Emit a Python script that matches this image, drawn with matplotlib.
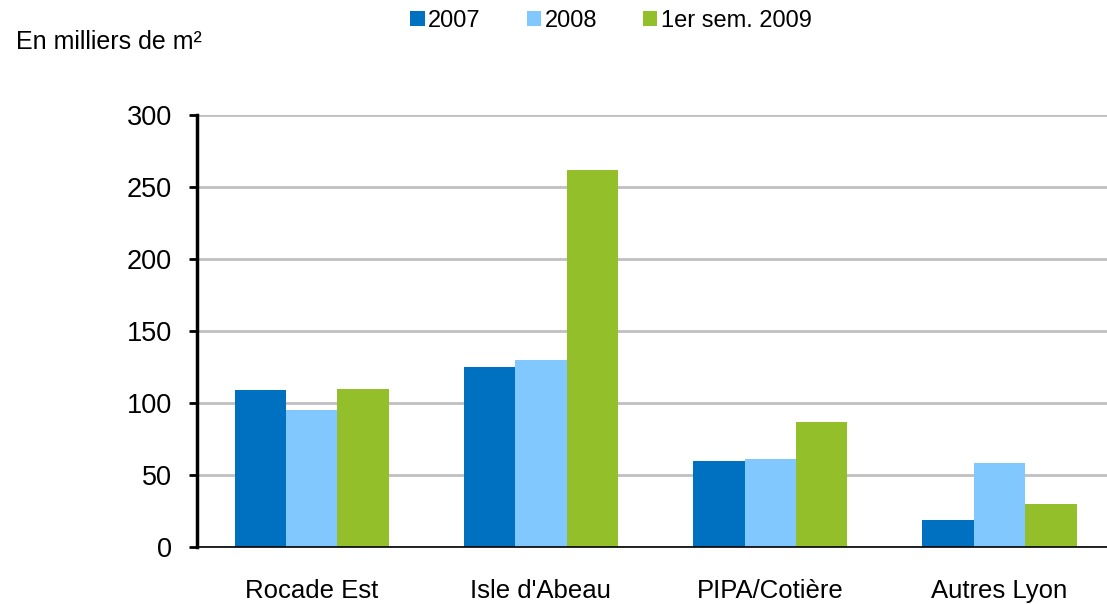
import matplotlib.pyplot as plt
import numpy as np

plt.rcParams['font.family'] = ['Liberation Sans', 'DejaVu Sans']

categories = ['Rocade Est', "Isle d'Abeau", 'PIPA/Cotière', 'Autres Lyon']
series = ['2007', '2008', '1er sem. 2009']
v2007 = [109, 125, 60, 19]
v2008 = [95, 130, 61, 58]
v2009 = [110, 262, 87, 30]
colors = ['#0070C0', '#80C8FF', '#93C02A']

fig = plt.figure(figsize=(11.07, 6.04), dpi=100)
ax = fig.add_axes([197 / 1107, 57 / 604, 1 - 197 / 1107 + 0.005, 432 / 604])

x = np.arange(len(categories))
w = 0.224
handles = []
for i, (vals, c) in enumerate(zip([v2007, v2008, v2009], colors)):
    b = ax.bar(x + (i - 1) * w, vals, w, color=c, zorder=3, label=series[i])
    handles.append(b)

ax.set_xlim(-0.5, 3.493)
ax.set_ylim(0, 300)
ax.set_yticks(range(0, 301, 50))
ax.set_xticks(x)
ax.set_xticklabels(categories)
ax.tick_params(axis='y', length=6, width=2, labelsize=19.5, pad=12)
ax.tick_params(axis='x', length=0, labelsize=18.5, pad=23)
ax.yaxis.grid(True, color='#c0c0c0', linewidth=2, zorder=0)
for s in ['top', 'right']:
    ax.spines[s].set_visible(False)
ax.spines['left'].set_linewidth(2.5)
ax.spines['bottom'].set_linewidth(1.2)
ax.spines['bottom'].set_zorder(4)

fig.text(16 / 1107, 1 - 42 / 604, 'En milliers de m²', fontsize=18, va='center')
fig.legend(handles=handles, loc='center', bbox_to_anchor=(0.552, 1 - 21 / 604),
           ncol=3, frameon=False, fontsize=17, handlelength=0.6, handleheight=0.6,
           handletextpad=0.15, columnspacing=1.95)

fig.savefig('out.png', dpi=100)
